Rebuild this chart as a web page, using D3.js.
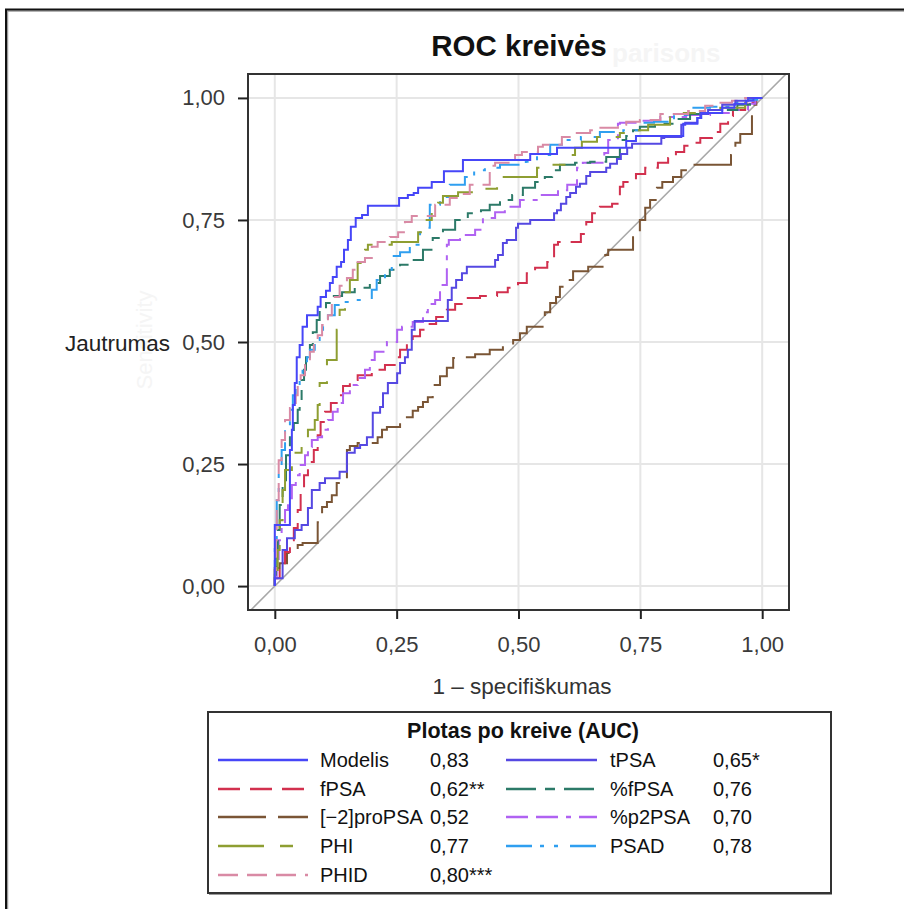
<!DOCTYPE html>
<html>
<head>
<meta charset="utf-8">
<script src="https://cdn.jsdelivr.net/npm/d3@7"></script>
<style>
  body { margin: 0; background: #fff; }
  svg { display: block; }
  text { font-family: "Liberation Sans", Arial, Helvetica, sans-serif; }
</style>
</head>
<body>
<svg id="chart" width="904" height="909"></svg>
<script>
// Axis ticks and their labels (decimal comma)
const axisTicks = [0, 0.25, 0.5, 0.75, 1];
const axisTickLabels = ["0,00", "0,25", "0,50", "0,75", "1,00"];

// Series names and AUC labels, in legend order
const seriesNames = ["Modelis", "fPSA", "[−2]proPSA", "PHI", "PHID", "tPSA", "%fPSA", "%p2PSA", "PSAD"];
const aucLabels   = ["0,83", "0,62**", "0,52", "0,77", "0,80***", "0,65*", "0,76", "0,70", "0,78"];

// ROC corner points [1 - specificity, sensitivity]; each point is reached by a
// vertical step followed by a horizontal step (curve starts at 0,0)
const rocModelis = [[.031,.125],[.035,.279],[.037,.320],[.041,.371],[.045,.416],[.051,.469],[.057,.494],[.066,.531],[.088,.555],[.094,.572],[.105,.592],[.113,.605],[.119,.621],[.127,.633],[.136,.654],[.142,.664],[.150,.689],[.156,.709],[.166,.736],[.179,.754],[.191,.760],[.255,.779],[.273,.795],[.285,.801],[.294,.805],[.322,.816],[.347,.828],[.386,.850],[.524,.873],[.579,.885],[.721,.898],[.741,.912],[.838,.922],[.867,.947],[.875,.959],[.918,.969],[.943,.980],[.967,.988],[.982,.994],[1,1]];
const rocTPSA = [[.016,.016],[.025,.074],[.041,.098],[.055,.115],[.068,.125],[.076,.160],[.092,.197],[.103,.211],[.133,.221],[.148,.234],[.164,.273],[.175,.283],[.189,.289],[.201,.305],[.216,.355],[.222,.367],[.232,.395],[.251,.416],[.257,.436],[.267,.457],[.273,.469],[.281,.484],[.287,.525],[.355,.543],[.363,.586],[.372,.611],[.384,.627],[.394,.641],[.452,.654],[.458,.668],[.468,.678],[.476,.703],[.495,.709],[.499,.734],[.524,.742],[.573,.750],[.579,.764],[.587,.770],[.598,.783],[.606,.797],[.618,.805],[.626,.818],[.639,.824],[.647,.840],[.680,.848],[.688,.857],[.702,.865],[.710,.875],[.723,.885],[.733,.898],[.793,.906],[.799,.918],[.834,.920],[.842,.945],[.867,.949],[.873,.959],[.889,.967],[.918,.975],[.945,.986],[.971,.994],[1,1]];
const rocFPSA = [[.010,.016],[.021,.043],[.031,.070],[.039,.094],[.047,.119],[.053,.156],[.060,.197],[.068,.227],[.080,.254],[.088,.279],[.094,.309],[.103,.336],[.115,.357],[.127,.375],[.140,.391],[.154,.410],[.170,.422],[.199,.432],[.226,.443],[.246,.453],[.257,.469],[.271,.484],[.283,.498],[.298,.512],[.312,.525],[.331,.537],[.353,.551],[.370,.566],[.390,.578],[.421,.590],[.456,.594],[.478,.602],[.499,.611],[.517,.621],[.534,.641],[.559,.652],[.573,.664],[.581,.699],[.628,.705],[.639,.721],[.651,.746],[.667,.764],[.692,.777],[.708,.783],[.715,.818],[.741,.828],[.760,.844],[.786,.857],[.807,.867],[.823,.877],[.840,.889],[.852,.902],[.873,.908],[.897,.918],[.914,.930],[.930,.947],[.940,.963],[.965,.975],[.986,.990],[1,1]];
const rocProPSA = [[.010,.037],[.025,.047],[.035,.068],[.047,.074],[.057,.084],[.088,.088],[.097,.131],[.107,.162],[.117,.172],[.127,.186],[.136,.211],[.148,.211],[.154,.279],[.170,.287],[.185,.293],[.211,.293],[.220,.305],[.230,.320],[.257,.326],[.265,.334],[.283,.346],[.294,.359],[.304,.367],[.314,.377],[.324,.387],[.339,.412],[.353,.430],[.366,.447],[.374,.467],[.411,.469],[.441,.475],[.468,.484],[.489,.494],[.503,.504],[.517,.518],[.554,.531],[.565,.561],[.577,.580],[.585,.592],[.595,.613],[.612,.627],[.643,.645],[.678,.654],[.684,.678],[.735,.689],[.749,.723],[.760,.750],[.770,.775],[.784,.791],[.795,.816],[.817,.828],[.834,.838],[.848,.852],[.856,.859],[.936,.863],[.945,.883],[.955,.908],[.979,.926],[.988,.986],[1,1]];
const rocPHI = [[.006,.033],[.010,.074],[.016,.135],[.021,.197],[.035,.238],[.055,.273],[.068,.299],[.082,.320],[.088,.340],[.092,.371],[.107,.416],[.127,.463],[.133,.525],[.144,.566],[.154,.602],[.170,.627],[.185,.662],[.191,.689],[.240,.699],[.294,.705],[.308,.725],[.322,.750],[.335,.766],[.345,.785],[.376,.799],[.421,.807],[.456,.814],[.466,.836],[.538,.838],[.554,.857],[.606,.863],[.616,.883],[.630,.898],[.661,.910],[.708,.920],[.739,.928],[.766,.934],[.811,.945],[.828,.967],[.873,.969],[.914,.975],[.965,.980],[.986,.990],[1,1]];
const rocPHID = [[.002,.033],[.004,.094],[.008,.176],[.014,.258],[.021,.299],[.031,.340],[.043,.365],[.047,.391],[.053,.412],[.062,.432],[.072,.453],[.080,.480],[.088,.494],[.097,.514],[.109,.535],[.117,.555],[.123,.580],[.133,.592],[.148,.615],[.160,.631],[.170,.648],[.185,.664],[.199,.672],[.211,.695],[.236,.705],[.253,.715],[.267,.725],[.281,.746],[.329,.758],[.359,.781],[.384,.795],[.400,.803],[.441,.822],[.452,.861],[.493,.867],[.507,.883],[.540,.889],[.550,.900],[.589,.904],[.616,.920],[.647,.928],[.663,.934],[.704,.939],[.721,.945],[.749,.951],[.791,.955],[.848,.967],[.883,.973],[.906,.984],[.938,.990],[.965,.994],[1,1]];
const rocPctFPSA = [[.002,.023],[.006,.064],[.010,.115],[.016,.166],[.023,.217],[.031,.268],[.039,.309],[.047,.334],[.051,.361],[.055,.381],[.060,.422],[.064,.443],[.072,.469],[.078,.494],[.086,.520],[.092,.545],[.105,.566],[.119,.580],[.138,.594],[.164,.602],[.195,.611],[.216,.621],[.236,.635],[.257,.648],[.277,.658],[.304,.668],[.324,.689],[.345,.713],[.370,.730],[.396,.750],[.423,.764],[.441,.770],[.462,.781],[.487,.791],[.509,.801],[.534,.816],[.554,.828],[.569,.838],[.585,.852],[.616,.863],[.647,.867],[.680,.869],[.708,.879],[.721,.914],[.735,.922],[.749,.934],[.780,.941],[.819,.947],[.852,.957],[.873,.967],[.914,.969],[.949,.975],[.975,.986],[1,1]];
const rocPctP2PSA = [[.004,.016],[.008,.053],[.014,.094],[.021,.125],[.027,.156],[.035,.180],[.043,.207],[.051,.227],[.062,.248],[.068,.268],[.076,.285],[.088,.299],[.097,.305],[.109,.320],[.119,.340],[.129,.357],[.140,.375],[.154,.395],[.170,.412],[.185,.426],[.195,.443],[.205,.463],[.230,.480],[.251,.500],[.261,.525],[.283,.531],[.304,.541],[.314,.561],[.329,.578],[.339,.586],[.353,.617],[.357,.699],[.380,.709],[.411,.719],[.427,.730],[.452,.754],[.472,.766],[.503,.777],[.544,.791],[.581,.801],[.600,.811],[.620,.822],[.632,.857],[.676,.867],[.684,.887],[.704,.914],[.708,.947],[.749,.949],[.791,.953],[.844,.961],[.893,.965],[.940,.969],[.971,.975],[.986,.988],[1,1]];
const rocPSAD = [[0,.023],[.004,.094],[.008,.176],[.014,.238],[.021,.279],[.031,.320],[.037,.361],[.043,.391],[.051,.412],[.057,.432],[.066,.453],[.072,.469],[.082,.484],[.092,.504],[.099,.525],[.109,.535],[.123,.555],[.133,.576],[.158,.582],[.199,.586],[.209,.607],[.226,.627],[.240,.648],[.244,.664],[.257,.676],[.277,.684],[.298,.699],[.318,.734],[.339,.781],[.359,.797],[.390,.822],[.409,.838],[.431,.852],[.462,.857],[.515,.863],[.538,.869],[.565,.883],[.589,.904],[.628,.914],[.667,.920],[.715,.930],[.756,.934],[.778,.949],[.819,.951],[.852,.965],[.893,.980],[.934,.982],[.949,.990],[.990,.996],[1,1]];

const rocBySeries = {
  "Modelis": rocModelis, "tPSA": rocTPSA, "fPSA": rocFPSA, "%fPSA": rocPctFPSA,
  "[−2]proPSA": rocProPSA, "%p2PSA": rocPctP2PSA, "PHI": rocPHI, "PSAD": rocPSAD, "PHID": rocPHID
};

// Line styles per series
const seriesStyle = {
  "Modelis":    { color: "#4646f8", dash: null },
  "tPSA":       { color: "#5548e2", dash: null },
  "fPSA":       { color: "#d2304e", dash: "22,10" },
  "[−2]proPSA": { color: "#7a5535", dash: "48,12" },
  "PHI":        { color: "#8e9e32", dash: "46,16,13,16" },
  "PHID":       { color: "#d98aa5", dash: "20,9" },
  "%fPSA":      { color: "#2c7a68", dash: "30,9,10,9" },
  "%p2PSA":     { color: "#b062f2", dash: "22,8,22,8,5,8" },
  "PSAD":       { color: "#2f9ff0", dash: "26,8,4,10,4,12" }
};
// Drawing order (later = on top)
const drawOrder = ["[−2]proPSA", "fPSA", "%p2PSA", "%fPSA", "PSAD", "PHI", "PHID", "tPSA", "Modelis"];

const svg = d3.select("#chart");
const plot = { left: 248, top: 74, right: 789, bottom: 610 };

// Outer page frame
svg.append("path").attr("d", "M7.5,909 V11 H904").attr("fill", "none").attr("stroke", "#9a9a9a").attr("stroke-width", 1.5);
svg.append("path").attr("d", "M6,909 V9.5 H904").attr("fill", "none").attr("stroke", "#111").attr("stroke-width", 2);

const x = d3.scaleLinear().domain([-0.055, 1.055]).range([plot.left, plot.right]);
const y = d3.scaleLinear().domain([-0.049, 1.049]).range([plot.bottom, plot.top]);

// Faint leftover text behind the title and axis label
svg.append("text").attr("x", 612).attr("y", 62).attr("font-size", 26).attr("font-weight", "bold")
  .attr("fill", "#f5f5f5").text("parisons");
svg.append("text").attr("transform", "translate(152,340) rotate(-90)").attr("text-anchor", "middle")
  .attr("font-size", 22).attr("fill", "#f5f5f5").text("Sensitivity");

// Title
svg.append("text").attr("x", 519).attr("y", 56).attr("text-anchor", "middle")
  .attr("font-size", 29.5).attr("font-weight", "bold").attr("fill", "#111").text("ROC kreivės");

// Plot background and grid
svg.append("rect").attr("x", plot.left).attr("y", plot.top)
  .attr("width", plot.right - plot.left).attr("height", plot.bottom - plot.top).attr("fill", "#fff");
const grid = svg.append("g").attr("stroke", "#e6e6e6").attr("stroke-width", 2);
grid.selectAll("line.v").data(axisTicks).join("line").attr("class", "v")
  .attr("x1", d => x(d)).attr("x2", d => x(d)).attr("y1", plot.top).attr("y2", plot.bottom);
grid.selectAll("line.h").data(axisTicks).join("line").attr("class", "h")
  .attr("y1", d => y(d)).attr("y2", d => y(d)).attr("x1", plot.left).attr("x2", plot.right);

svg.append("clipPath").attr("id", "plotClip").append("rect")
  .attr("x", plot.left).attr("y", plot.top)
  .attr("width", plot.right - plot.left).attr("height", plot.bottom - plot.top);

// Reference diagonal
const ref = [-0.06, 1.06];
svg.append("line").attr("clip-path", "url(#plotClip)")
  .attr("x1", x(ref[0])).attr("y1", y(ref[0])).attr("x2", x(ref[1])).attr("y2", y(ref[1]))
  .attr("stroke", "#a8a8a8").attr("stroke-width", 1.5);

// ROC curves
const rocLine = d3.line().x(d => x(d[0])).y(d => y(d[1])).curve(d3.curveStepBefore);
const curves = svg.append("g").attr("clip-path", "url(#plotClip)").attr("fill", "none");
drawOrder.forEach(name => {
  const st = seriesStyle[name];
  curves.append("path")
    .datum([[0, 0]].concat(rocBySeries[name]))
    .attr("d", rocLine)
    .attr("stroke", st.color).attr("stroke-width", 2)
    .attr("stroke-dasharray", st.dash);
});

// Plot frame
svg.append("rect").attr("x", plot.left).attr("y", plot.top)
  .attr("width", plot.right - plot.left).attr("height", plot.bottom - plot.top)
  .attr("fill", "none").attr("stroke", "#333").attr("stroke-width", 2);

// Axes
const fmt = (d, i) => axisTickLabels[i];
const xAxis = svg.append("g").attr("transform", `translate(0,${plot.bottom})`)
  .call(d3.axisBottom(x).tickValues(axisTicks).tickFormat(fmt).tickSize(9).tickSizeOuter(0).tickPadding(17));
const yAxis = svg.append("g").attr("transform", `translate(${plot.left},0)`)
  .call(d3.axisLeft(y).tickValues(axisTicks).tickFormat(fmt).tickSize(10).tickSizeOuter(0).tickPadding(13));
[xAxis, yAxis].forEach(g => {
  g.select(".domain").remove();
  g.selectAll(".tick line").attr("stroke", "#222").attr("stroke-width", 2);
  g.selectAll(".tick text").attr("font-size", 22).attr("fill", "#3a3a3a")
    .attr("font-family", "\"Liberation Sans\", Arial, sans-serif");
});

// Axis titles
svg.append("text").attr("x", 170).attr("y", 351).attr("text-anchor", "end")
  .attr("font-size", 22.5).attr("fill", "#222").text("Jautrumas");
svg.append("text").attr("x", 522).attr("y", 694).attr("text-anchor", "middle")
  .attr("font-size", 22.5).attr("fill", "#333").text("1 – specifiškumas");

// Legend
const lg = svg.append("g");
lg.append("rect").attr("x", 209).attr("y", 714).attr("width", 623).attr("height", 181).attr("fill", "#9a9a9a");
lg.append("rect").attr("x", 208).attr("y", 712).attr("width", 623).attr("height", 181)
  .attr("fill", "#fff").attr("stroke", "#333").attr("stroke-width", 2);
lg.append("text").attr("x", 523).attr("y", 738).attr("text-anchor", "middle")
  .attr("font-size", 21.5).attr("font-weight", "bold").attr("fill", "#111").text("Plotas po kreive (AUC)");

const rowY = [760, 789, 817, 846, 875];
const legendCols = [
  { lineX: [218, 308], labelX: 320, valueX: 430 },
  { lineX: [506, 597], labelX: 610, valueX: 713 }
];
seriesNames.forEach((name, i) => {
  const col = legendCols[i < 5 ? 0 : 1];
  const ry = rowY[i < 5 ? i : i - 5];
  const st = seriesStyle[name];
  lg.append("line").attr("x1", col.lineX[0]).attr("x2", col.lineX[1]).attr("y1", ry).attr("y2", ry)
    .attr("stroke", st.color).attr("stroke-width", 2.5).attr("stroke-dasharray", st.dash);
  lg.append("text").attr("x", col.labelX).attr("y", ry + 7).attr("font-size", 20).attr("fill", "#111").text(name);
  lg.append("text").attr("x", col.valueX).attr("y", ry + 7).attr("font-size", 20).attr("fill", "#111").text(aucLabels[i]);
});
</script>
</body>
</html>
